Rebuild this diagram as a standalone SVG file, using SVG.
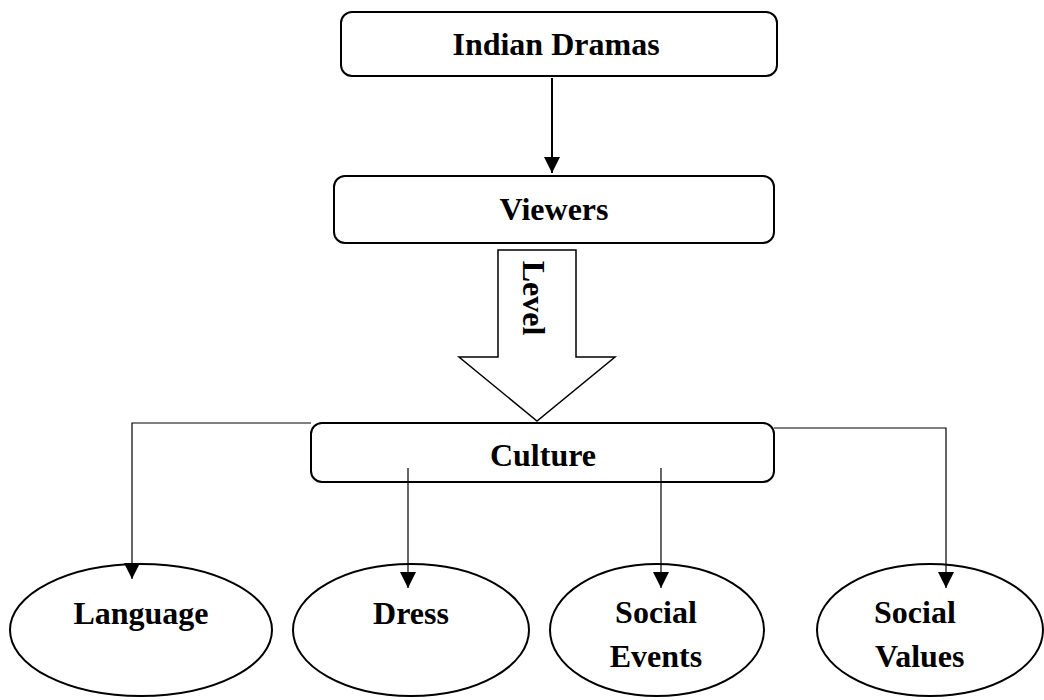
<svg xmlns="http://www.w3.org/2000/svg" width="1044" height="700" viewBox="0 0 1044 700">
<style>
.box{fill:#fff;stroke:#000;stroke-width:2}
.ell{fill:#fff;stroke:#000;stroke-width:2}
.lbl{font-family:"Liberation Serif","Times New Roman",serif;font-weight:bold;font-size:32px;fill:#000}
.con{fill:none;stroke:#000;stroke-width:1.2}
.blk{fill:#fff;stroke:#000;stroke-width:1.5}
</style>
<defs>
<marker id="ah" markerWidth="16" markerHeight="16" viewBox="0 0 16 16" refX="16" refY="8" orient="auto" markerUnits="userSpaceOnUse">
<path d="M0,0 L16,8 L0,16 Z" fill="#000"/>
</marker>
</defs>
<rect width="1044" height="700" fill="#fff"/>
<g id="indian-dramas">
<rect class="box" x="341" y="12" width="436" height="64" rx="11"/>
<text class="lbl" x="556" y="55" text-anchor="middle">Indian Dramas</text>
</g>
<g id="viewers">
<rect class="box" x="334" y="176" width="440" height="67" rx="11"/>
<text class="lbl" x="554" y="220" text-anchor="middle">Viewers</text>
</g>
<g id="level-arrow">
<polygon class="blk" points="498,250 576,250 576,357 615,357 537,421 459,357 498,357"/>
<text class="lbl" text-anchor="middle" transform="translate(523,298) rotate(90)">Level</text>
</g>
<g id="culture">
<rect class="box" x="311" y="423" width="463" height="59" rx="11"/>
<text class="lbl" x="543" y="466" text-anchor="middle">Culture</text>
</g>
<g id="language">
<ellipse class="ell" cx="141" cy="630" rx="131" ry="66"/>
<text class="lbl" x="141" y="624" text-anchor="middle">Language</text>
</g>
<g id="dress">
<ellipse class="ell" cx="411" cy="630" rx="118" ry="66"/>
<text class="lbl" x="411" y="624" text-anchor="middle">Dress</text>
</g>
<g id="social-events">
<ellipse class="ell" cx="657" cy="630" rx="107" ry="66"/>
<text class="lbl" x="656" y="623" text-anchor="middle">Social</text>
<text class="lbl" x="656" y="667" text-anchor="middle">Events</text>
</g>
<g id="social-values">
<ellipse class="ell" cx="930" cy="630" rx="113" ry="66"/>
<text class="lbl" x="874" y="623">Social</text>
<text class="lbl" x="875" y="667">Values</text>
</g>
<g id="connectors">
<line class="con" x1="552" y1="78" x2="552" y2="173" marker-end="url(#ah)" style="stroke-width:2"/>
<polyline class="con" points="311,423 132,423 132,579" marker-end="url(#ah)"/>
<line class="con" x1="408" y1="468" x2="408" y2="588" marker-end="url(#ah)"/>
<line class="con" x1="661" y1="468" x2="661" y2="588" marker-end="url(#ah)"/>
<polyline class="con" points="774,428 946,428 946,588" marker-end="url(#ah)"/>
</g>
</svg>
